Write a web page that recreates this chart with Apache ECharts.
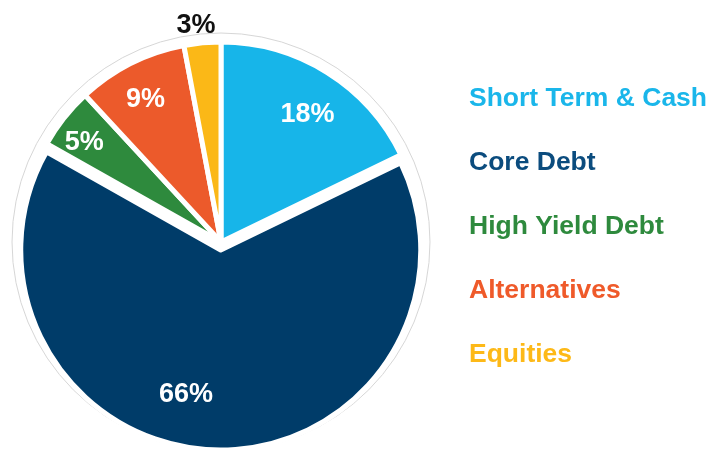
<!DOCTYPE html>
<html><head><meta charset="utf-8">
<script src="https://cdn.jsdelivr.net/npm/echarts@6/dist/echarts.min.js"></script>
<style>html,body{margin:0;padding:0;background:#fff}#c{width:711px;height:452px}</style>
</head><body><div id="c"></div>
<script>
const categories = ['Short Term & Cash', 'Core Debt', 'High Yield Debt', 'Alternatives', 'Equities'];
const values = [18, 66, 5, 9, 3];
const sliceColors = ['#17b5e9', '#003c69', '#2e8a3d', '#ec5a2b', '#fbb817'];
const legendColors = ['#1ab6ea', '#0b4c7e', '#2e8a3d', '#ef5a2a', '#fdb918'];
const labelOffsets = [[2, 7], [-30, -6], [-12, -1], [-4, 0], [20, 2]];
const insideLabelIdx = [0, 1, 2, 3];

const FONT = '"Liberation Sans", Arial, sans-serif';
const chart = echarts.init(document.getElementById('c'), null, {renderer: 'canvas'});

const pieData = categories.map((n, i) => ({
  name: n, value: values[i],
  selected: i === 1,
  itemStyle: {color: sliceColors[i]}
}));

const labelData = categories.map((n, i) => ({
  name: n, value: values[i],
  label: insideLabelIdx.includes(i) ? {position: 'inside', color: '#fff', offset: labelOffsets[i]} :
    {position: 'outside', color: '#111', offset: labelOffsets[i]},
  labelLine: {show: false, length: 19, length2: 0}
}));

chart.setOption({
  animation: false,
  legend: {
    orient: 'vertical', left: 450, top: 80, itemGap: 37,
    icon: 'none', itemWidth: 9, itemHeight: 14,
    selectedMode: false,
    textStyle: {fontSize: 26.5, fontWeight: 'bold', fontFamily: FONT, lineHeight: 26},
    data: categories.map((n, i) => ({name: n, textStyle: {color: legendColors[i]}}))
  },
  series: [
    {
      type: 'pie', name: 'ring', silent: true, z: 1,
      center: [221, 242], radius: 209,
      label: {show: false}, labelLine: {show: false},
      itemStyle: {color: '#fff', borderColor: '#d6d6d6', borderWidth: 1},
      data: [{name: 'ring', value: 1}]
    },
    {
      type: 'pie', name: 'alloc', z: 2,
      center: [221, 242], radius: 200,
      startAngle: 90, clockwise: true,
      selectedMode: 'single', selectedOffset: 8,
      itemStyle: {borderColor: '#fff', borderWidth: 5},
      label: {show: false}, labelLine: {show: false},
      emphasis: {disabled: true},
      data: pieData
    },
    {
      type: 'pie', name: 'labels', z: 3, silent: true,
      center: [221, 242], radius: [112, 200],
      startAngle: 90, clockwise: true,
      avoidLabelOverlap: false,
      itemStyle: {color: 'rgba(0,0,0,0)', borderWidth: 0},
      label: {show: true, formatter: '{c}%', fontSize: 27, fontWeight: 'bold', fontFamily: FONT},
      emphasis: {disabled: true},
      data: labelData
    }
  ]
});
</script></body></html>
